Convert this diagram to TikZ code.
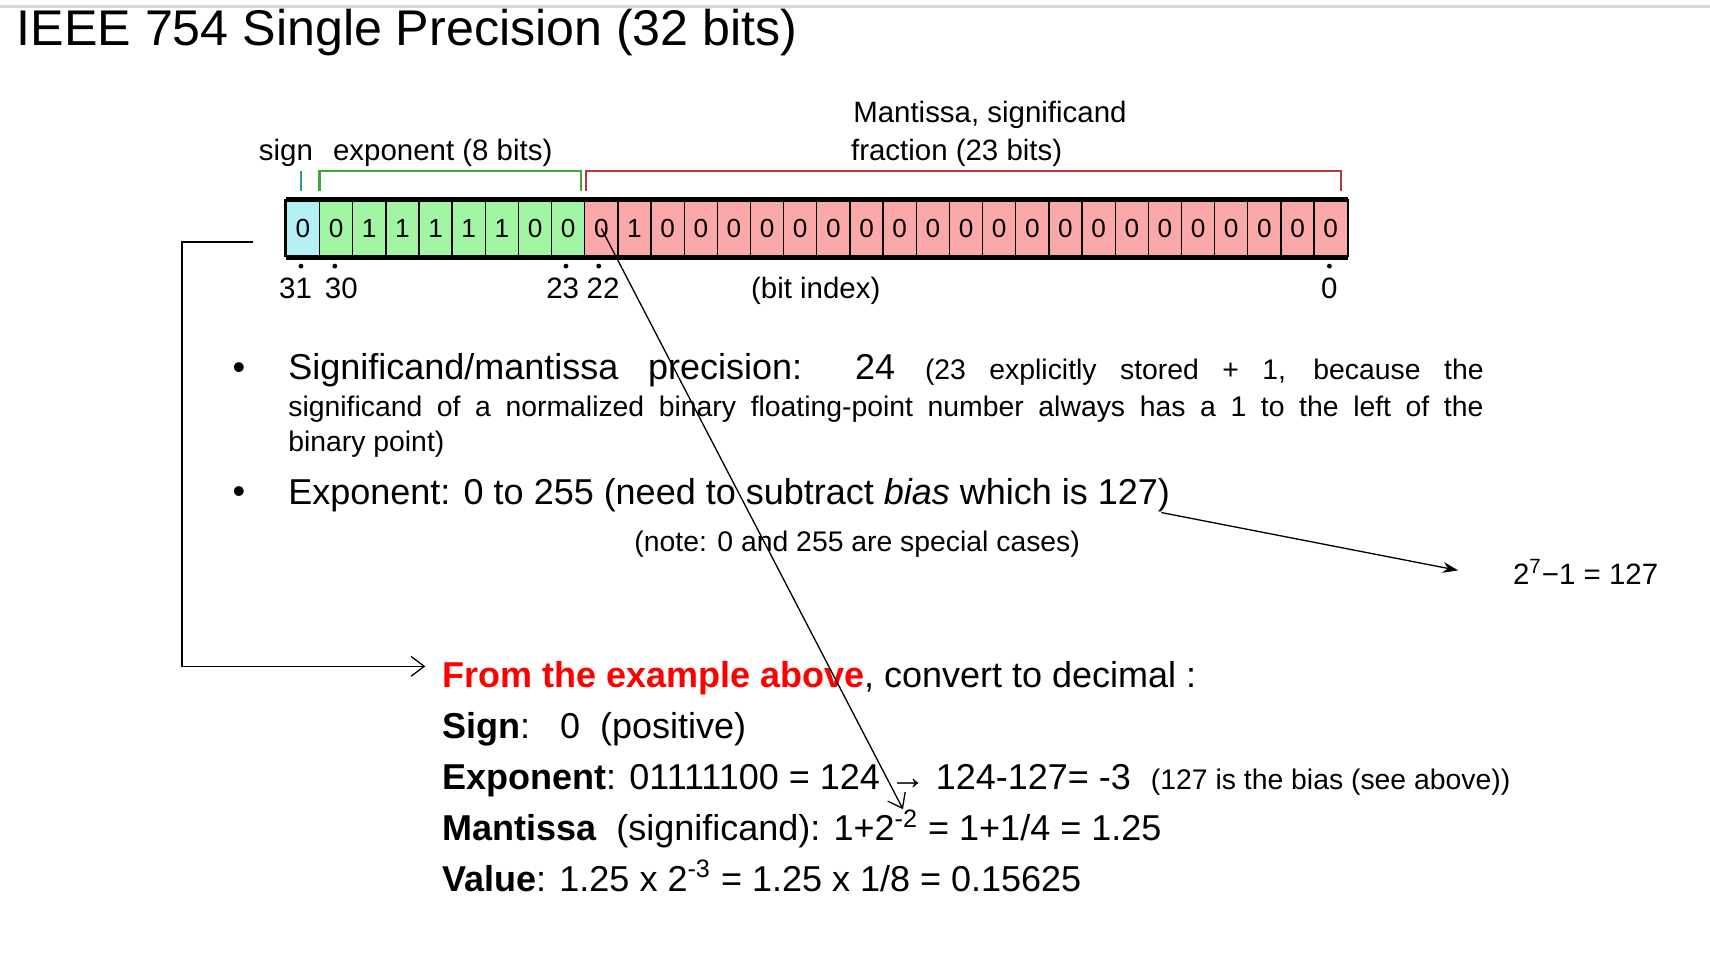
\documentclass[tikz,border=0pt]{standalone}
\usepackage{fontspec}
\setmainfont{Liberation Sans}
\usetikzlibrary{arrows.meta}
\definecolor{sgn}{HTML}{B3F0F5}
\definecolor{ex}{HTML}{A2F5A2}
\definecolor{ma}{HTML}{FBA8A8}
\definecolor{exl}{HTML}{3BA83B}
\definecolor{mal}{HTML}{B03A3A}
\definecolor{sgl}{HTML}{2E9AA0}
\tikzset{
 cell/.style={draw=black,line width=0.6pt,minimum width=15.2pt,minimum height=26pt,inner sep=0pt,font=\fontsize{12}{12}\selectfont,anchor=west},
 lab/.style={inner sep=0pt,anchor=base west,font=\fontsize{13.5}{14}\selectfont},
 big/.style={inner sep=0pt,anchor=base west,font=\fontsize{16.5}{18}\selectfont},
 conn/.style={line width=0.6pt},
}
\begin{document}
\begin{tikzpicture}[x=0.5pt,y=-0.5pt]
\useasboundingbox (0,0) rectangle (1568,880);
\draw[gray!30,line width=1pt] (0,6) -- (1568,6);
\node[inner sep=0pt,anchor=base west,font=\fontsize{23}{24}\selectfont] (title) at (15,42) {IEEE 754 Single Precision (32 bits)};
% bits
\def\bits{0,0,1,1,1,1,1,0,0,0,1,0,0,0,0,0,0,0,0,0,0,0,0,0,0,0,0,0,0,0,0,0}
\foreach \b [count=\k from 0] in \bits {
  \pgfmathtruncatemacro{\idx}{31-\k}
  \ifnum\k=0 \def\fc{sgn}\else\ifnum\k<9 \def\fc{ex}\else\def\fc{ma}\fi\fi
  \node[cell,fill=\fc] (c\idx) at ({262+30.4*\k},209.5) {\b};
}
\draw[line width=2.5pt] (c31.north west) -- (c0.north east);
\draw[line width=2.5pt] (c31.south west) -- (c0.south east);
\draw[line width=1.2pt] (c31.north west) -- (c31.south west);
\draw[line width=1.2pt] (c0.north east) -- (c0.south east);
% brackets
\draw[sgl,line width=1pt] (276,157) -- (276,175);
\draw[exl,line width=1pt] (293,175) -- (293,157) -- (533,157) -- (533,175);
\draw[mal,line width=1pt] (537,175) -- (537,157) -- (1230,157) -- (1230,175);
\node[lab] (ls) at (237,147) {sign};
\node[lab] (le) at (305,147) {exponent (8 bits)};
\node[lab] (lm) at (782,112) {Mantissa, significand};
\node[lab] (lf) at (780,147) {fraction (23 bits)};
% index
\foreach \x in {276,307,519,549,1219} \fill (\x,244) circle (2.2);
\node[lab,anchor=base] (i31) at (271,274) {31};
\node[lab,anchor=base] (i30) at (313,274) {30};
\node[lab,anchor=base] (i23) at (516,274) {23};
\node[lab,anchor=base] (i22) at (553,274) {22};
\node[lab,anchor=base] (ibi) at (748,274) {(bit index)};
\node[lab,anchor=base] (i0) at (1219,274) {0};
% bullets
\node[big,anchor=base] (b1) at (219,348) {•};
\node[big,anchor=base] (b2) at (219,462) {•};
\node[big] (t1) at (264,348) {\makebox[548pt][s]{Significand/mantissa precision: 24 {\fontsize{13}{14}\selectfont(23 explicitly stored + 1, because the}}};
\node[lab,font=\fontsize{13}{14}\selectfont] (t2) at (264,382) {\makebox[548pt][s]{significand of a normalized binary floating-point number always has a 1 to the left of the}};
\node[lab,font=\fontsize{13}{14}\selectfont] (t3) at (264,414) {binary point)};
\node[big] (t4) at (264,463) {Exponent: 0 to 255 (need to subtract \textit{bias} which is 127)};
\node[lab,font=\fontsize{13}{14}\selectfont,anchor=base] (t5) at (786,506) {(note: 0 and 255 are special cases)};
\coordinate (a1) at (1065,470);
\node[lab,font=\fontsize{13.5}{14}\selectfont] (p127) at (1387,536) {2\textsuperscript{7}−1 = 127};
\draw[conn,-{Stealth[length=7pt,width=5pt]}] (a1) -- (1337,523);
% example
\node[big] (ex1) at (405,630) {\textcolor{red}{\textbf{From the example above}}, convert to decimal :};
\node[big] (ex2) at (405,677) {\textbf{Sign}:\ \ \ 0\ \ (positive)};
\node[big] (ex3) at (405,724) {\textbf{Exponent}: 01111100 = 124 → 124-127= -3\ \ {\fontsize{13}{14}\selectfont(127 is the bias (see above))}};
\node[big] (ex4) at (405,771) {\textbf{Mantissa}\ \ (significand): 1+2\textsuperscript{-2} = 1+1/4 = 1.25};
\node[big] (ex5) at (405,817) {\textbf{Value}: 1.25 x 2\textsuperscript{-3} = 1.25 x 1/8 = 0.15625};
% connectors
\coordinate (e0) at (232,222);
\draw[conn,-{Straight Barb[length=6pt,width=9pt]}] (e0) -- (167,222) -- (167,611) -- (390,611);
\draw[conn,-{Straight Barb[length=6pt,width=9pt]}] (c22.center) -- (828,742);
\end{tikzpicture}
\end{document}
